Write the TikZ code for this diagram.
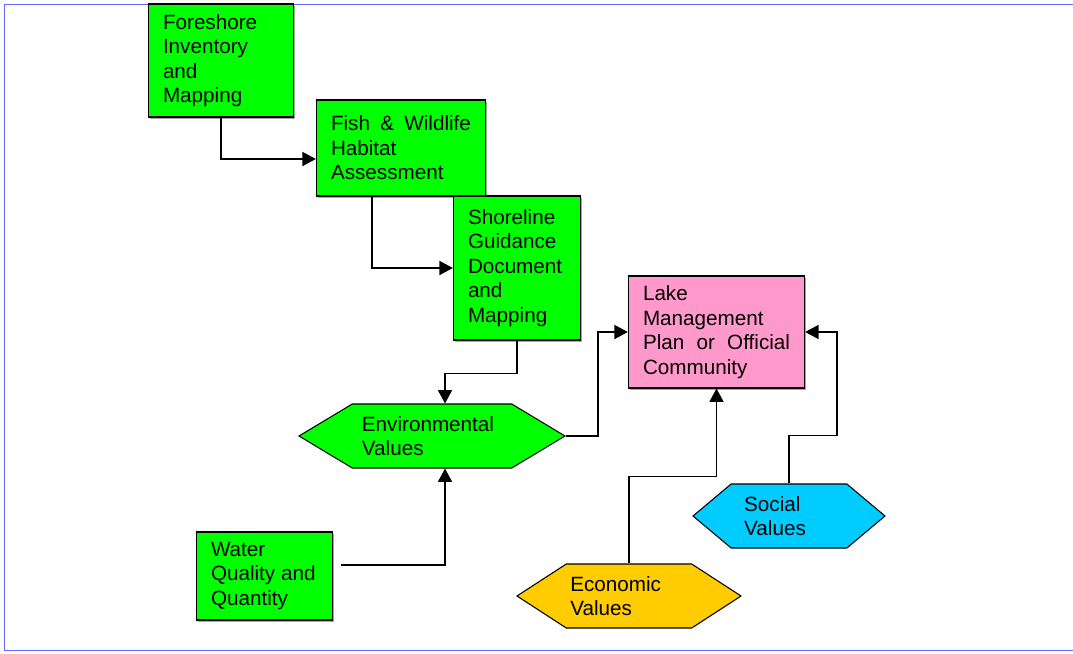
\documentclass[tikz,border=0pt]{standalone}
\usepackage{fontspec}
\setmainfont{Liberation Sans}
\usepackage{tikz}
\usetikzlibrary{arrows.meta,shapes.symbols,shadows}
\definecolor{boxgreen}{RGB}{0,255,0}
\definecolor{lakepink}{RGB}{255,153,204}
\definecolor{econyellow}{RGB}{255,204,0}
\definecolor{socialblue}{RGB}{0,204,255}
\definecolor{frameblue}{RGB}{102,102,255}

\begin{document}
\begin{tikzpicture}[
x=0.75pt, y=-0.75pt,
box/.style={draw, line width=0.8pt, fill=boxgreen, align=justify, inner xsep=11pt, inner ysep=0pt,
  font=\fontsize{15.5}{18.4}\selectfont,
  drop shadow={shadow xshift=1.2pt, shadow yshift=-1.2pt, fill=black!50, opacity=0.7}},
hexa/.style={signal, signal to=west and east, draw, line width=0.8pt, fill=boxgreen, align=left,
  minimum height=48pt, inner sep=0pt, font=\fontsize{15.5}{18.4}\selectfont},
arr/.style={-{Triangle[length=10pt,width=10.5pt]}, line width=1.1pt}
]
\useasboundingbox (0,0) rectangle (1073,653);
\draw[frameblue, line width=0.6pt] (1073,4) -- (4,4) -- (4,650) -- (1073,650);

% boxes
\node[box, text width=87pt, minimum height=84.75pt] (fore) at (221,60.5)
  {Foreshore\\ Inventory\\ and\\ Mapping};
\node[box, text width=105pt, minimum height=72pt] (fish) at (401,148)
  {Fish \& Wildlife\linebreak Habitat\\ Assessment};
\node[box, text width=73.5pt, minimum height=108pt] (shore) at (517,268)
  {Shoreline\\ Guidance\\ Document\\ and\\ Mapping};
\node[box, fill=lakepink, text width=110.25pt, minimum height=84pt] (lake) at (716.5,332)
  {Lake\\ Management\\ Plan or Official\linebreak Community};
\node[box, text width=80.25pt, minimum height=66pt] (water) at (264.5,576)
  {Water\\ Quality and\\ Quantity};

% values
\node[hexa, minimum width=199.5pt, signal pointer angle=62] (env) at (432,436)
  {Environmental\hspace*{6pt}\\ Values};
\node[hexa, fill=econyellow, minimum width=168pt, signal pointer angle=66] (econ) at (629,596)
  {Economic\hspace*{20pt}\\ Values};
\node[hexa, fill=socialblue, minimum width=144pt, signal pointer angle=80] (social) at (789,516)
  {Social\hspace*{25pt}\\ Values};

% links
\draw[arr] (fore.south) |- ([yshift=-8.25pt]fish.west);
\draw[arr] ([xshift=-21.75pt]fish.south) |- (shore.west);
\draw[arr] (shore.south) -- ++(0,33) -| ([xshift=9.75pt]env.north);
\draw[arr] (env.east) -- ++(32,0) |- (lake.west);
\draw[arr] ([xshift=6pt, yshift=8.25pt]water.east) -| ([xshift=9.75pt]env.south);
\draw[arr] (econ.north) -- ++(0,-87) -| (lake.south);
\draw[arr] (social.north) -- ++(0,-48) -- ++(48,0) |- (lake.east);
\end{tikzpicture}
\end{document}
